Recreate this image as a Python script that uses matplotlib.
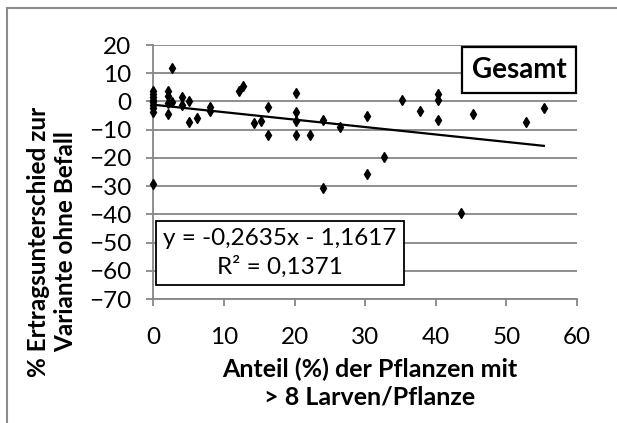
import numpy as np
import matplotlib
matplotlib.use("Agg")
import matplotlib.pyplot as plt
from matplotlib.lines import Line2D

plt.rcParams['font.family'] = ['Lato', 'DejaVu Sans']

# Anteil (%) der Pflanzen mit > 8 Larven/Pflanze
anteil = [0, 0, 0, 0, 0, 0, 0, 0, 0,
          2.1, 2.1, 2.1, 2.1,
          2.6, 2.6,
          4.1, 4.1,
          5.1, 5.1,
          6.2,
          8.1, 8.1,
          12.2, 12.7, 14.2, 15.2,
          16.2, 16.2,
          20.2, 20.2, 20.2, 20.2,
          22.2,
          24.0, 24.0,
          26.5,
          30.3, 30.3,
          32.7, 35.2, 37.7,
          40.3, 40.3, 40.3,
          43.6, 45.3, 52.8, 55.3]
# % Ertragsunterschied zur Variante ohne Befall
ertrag = [3.8, 2.6, 1.5, 0.5, -0.3, -1.3, -2.4, -3.9, -29.3,
          3.7, 1.9, -0.7, -4.6,
          11.7, -0.1,
          1.5, -1.3,
          0.0, -7.4,
          -6.0,
          -1.9, -3.3,
          3.7, 5.6, -7.5, -6.8,
          -2.1, -11.9,
          3.1, -3.7, -6.8, -11.9,
          -11.9,
          -6.6, -30.5,
          -9.0,
          -5.2, -25.7,
          -19.8, 0.5, -3.3,
          2.6, 0.5, -6.6,
          -39.5, -4.6, -7.2, -2.4]

slope = -0.2635
intercept = -1.1617
r2 = 0.1371

xticks = [0, 10, 20, 30, 40, 50, 60]
yticks = [20, 10, 0, -10, -20, -30, -40, -50, -60, -70]

W, H = 617, 423
fig = plt.figure(figsize=(W / 100, H / 100), dpi=100)
ax = fig.add_axes([153.3 / W, 1 - 299 / H, (577 - 153.3) / W, (299 - 45) / H])

grid_c = '#868686'
ax.set_xlim(0, 60)
ax.set_ylim(-70, 20)
ax.set_xticks(xticks)
ax.set_yticks(yticks)
ax.yaxis.grid(True, color=grid_c, lw=1.3)
ax.set_axisbelow(True)
for s in ['top', 'right']:
    ax.spines[s].set_visible(False)
for s in ['left', 'bottom']:
    ax.spines[s].set_color(grid_c)
    ax.spines[s].set_linewidth(1.3)
ax.tick_params(axis='both', direction='out', length=5, width=1.3, color=grid_c,
               labelsize=17.5, labelcolor='black')
ax.tick_params(axis='y', pad=11)
ax.tick_params(axis='x', pad=15)

ax.plot(anteil, ertrag, linestyle='none', marker='d', markersize=5.5,
        color='black', clip_on=False, zorder=3)

xl = np.array([0, max(anteil)])
ax.plot(xl, slope * xl + intercept, color='black', lw=1.6, zorder=2)

eq = 'y = ' + f'{slope:.4f}'.replace('.', ',') + 'x - ' + f'{abs(intercept):.4f}'.replace('.', ',')
eq += '\nR² = ' + f'{r2:.4f}'.replace('.', ',')
ax.text(280 / W, 1 - 253 / H, eq, transform=fig.transFigure, ha='center', va='center',
        fontsize=17.5, linespacing=1.35,
        bbox=dict(boxstyle='square,pad=0.3', fc='white', ec='black', lw=1.3))

ax.text(519 / W, 1 - 70 / H, 'Gesamt', transform=fig.transFigure, ha='center', va='center',
        fontsize=20, fontweight='bold',
        bbox=dict(boxstyle='square,pad=0.35', fc='white', ec='black', lw=1.6))

fig.text(52 / W, 1 - 242 / H, '% Ertragsunterschied zur\nVariante ohne Befall',
         rotation=90, ha='center', va='center', fontsize=17.5, fontweight='bold',
         linespacing=1.2)
fig.text(370 / W, 1 - 383 / H, 'Anteil (%) der Pflanzen mit\n> 8 Larven/Pflanze',
         ha='center', va='center', fontsize=18, fontweight='bold', linespacing=1.25)

# chart area border (only left and top edge visible in the crop)
fig.add_artist(Line2D([7 / W, 7 / W], [0, 1 - 8 / H], transform=fig.transFigure,
                      color='#8c8c8c', lw=1.5))
fig.add_artist(Line2D([7 / W, 1], [1 - 8 / H, 1 - 8 / H], transform=fig.transFigure,
                      color='#8c8c8c', lw=1.5))

fig.savefig('out.png', dpi=100)
